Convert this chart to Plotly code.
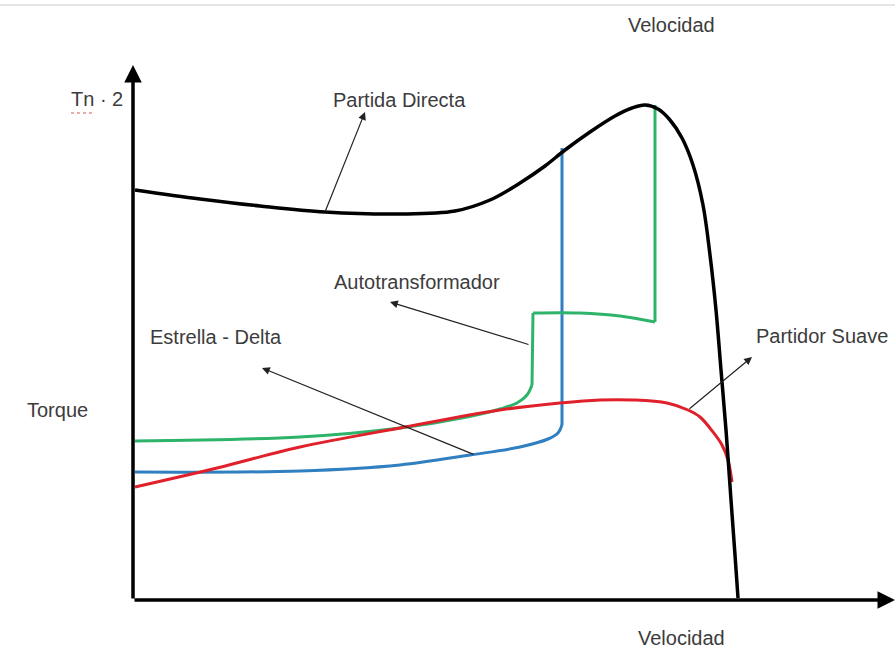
import plotly.graph_objects as go

# Speed (x) and torque (y) in schematic units, origin at axes intersection
directa_x = [2, 67, 127, 192, 267, 322, 357, 387, 412, 432, 457, 482, 499, 512, 525, 537, 549, 560, 570, 577, 583, 588, 593, 598, 602, 605]
directa_y = [410, 401, 394, 388, 386, 389, 400, 417, 434, 450, 468, 484, 492, 495, 491, 480, 462, 435, 395, 345, 290, 230, 170, 100, 45, 2]

estrella_x = [2, 167, 267, 337, 387, 415, 425, 429, 429]
estrella_y = [128, 129, 135, 145, 153, 161, 167, 175, 452]

auto_x = [2, 167, 267, 334, 367, 384, 394, 399, 400, 447, 487, 522, 522]
auto_y = [159, 163, 172, 183, 191, 197, 205, 215, 287, 287, 284, 278, 495]

suave_x = [2, 84, 167, 267, 367, 427, 467, 500, 534, 555, 567, 580, 589, 595, 599]
suave_y = [113, 132, 153, 172, 190, 197, 200, 200, 197, 190, 183, 168, 155, 140, 118]

fig = go.Figure()

def add(x, y, color, width, smooth=1.0):
    fig.add_trace(go.Scatter(x=x, y=y, mode="lines",
                             line=dict(color=color, width=width, shape="spline", smoothing=smooth),
                             hoverinfo="skip", showlegend=False))

BLUE, GREEN = "#2f7fc1", "#2db36a"
add(estrella_x[:-1], estrella_y[:-1], BLUE, 3)
add(estrella_x[-2:], estrella_y[-2:], BLUE, 3)
add(auto_x[:8], auto_y[:8], GREEN, 3)
add(auto_x[7:9], auto_y[7:9], GREEN, 3)
add(auto_x[8:12], auto_y[8:12], GREEN, 3)
add(auto_x[11:], auto_y[11:], GREEN, 3)
add(suave_x, suave_y, "#e0202a", 3)
add(directa_x, directa_y, "#000000", 3.5)

txt = dict(family="Liberation Sans, Arial, sans-serif", size=20, color="#3c3c3c")
ann = []
# axes arrows
ann.append(dict(x=0, y=535, ax=0, ay=0, xref="x", yref="y", axref="x", ayref="y",
                showarrow=True, arrowhead=2, arrowsize=1, arrowwidth=3.5, arrowcolor="#000", text=""))
ann.append(dict(x=762, y=0, ax=0, ay=0, xref="x", yref="y", axref="x", ayref="y",
                showarrow=True, arrowhead=2, arrowsize=1, arrowwidth=3.5, arrowcolor="#000", text=""))
# pointer arrows
for hx, hy, tx, ty in [(232, 488, 192, 388), (257, 298, 397, 255), (129, 232, 342, 145), (619, 243, 555, 190)]:
    ann.append(dict(x=hx, y=hy, ax=tx, ay=ty, xref="x", yref="y", axref="x", ayref="y",
                    showarrow=True, arrowhead=2, arrowsize=1.3, arrowwidth=1.2, arrowcolor="#222", text=""))
labels = [("Velocidad", 538, 575), ("Velocidad", 548, -38), ("Torque", -76, 190), ("Tn · 2", -36, 501),
          ("Partida Directa", 266, 500), ("Autotransformador", 284, 318), ("Estrella - Delta", 83, 263),
          ("Partidor Suave", 689, 264)]
for t, x, y in labels:
    ann.append(dict(x=x, y=y, xref="x", yref="y", text=t, showarrow=False, font=txt))

fig.update_layout(
    width=895, height=653, margin=dict(l=0, r=0, t=0, b=0),
    paper_bgcolor="white", plot_bgcolor="white",
    xaxis=dict(range=[-133, 762], visible=False, fixedrange=True),
    yaxis=dict(range=[-53, 600], visible=False, fixedrange=True),
    annotations=ann,
    shapes=[dict(type="line", xref="paper", yref="y", x0=0, x1=1, y0=595, y1=595,
                 line=dict(color="#dddddd", width=1.5)),
            dict(type="line", xref="x", yref="y", x0=-62, x1=-38, y0=487, y1=487,
                 line=dict(color="#e05050", width=1, dash="dot"))],
)
fig.write_html("out.html", config={"displayModeBar": False},
               post_script="document.body.style.margin='0';document.body.style.overflow='hidden';")
